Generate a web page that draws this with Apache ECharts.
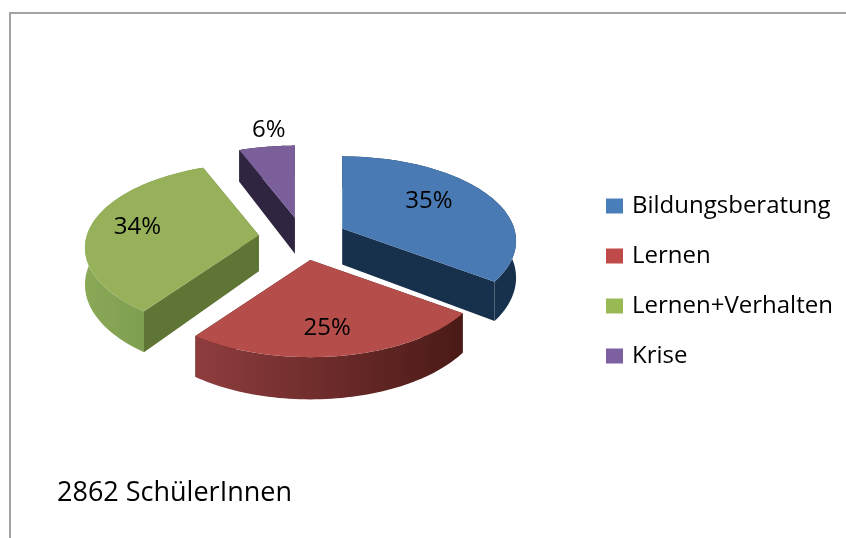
<!DOCTYPE html>
<html>
<head>
<meta charset="utf-8">
<style>html,body{margin:0;padding:0;background:#fff}#main{width:846px;height:538px}</style>
<script src="https://cdn.jsdelivr.net/npm/echarts@6/dist/echarts.min.js"></script>
</head>
<body>
<div id="main"></div>
<script>
var categories = ['Bildungsberatung', 'Lernen', 'Lernen+Verhalten', 'Krise']
var values = [35, 25, 34, 6]
var footnote = '2862 SchülerInnen'

// look of each slice, same order as categories
var topColors = ['#4a7ab3', '#b54e4a', '#96b15a', '#7a5f9a']
var legendColors = ['#4a7ebb', '#be4b48', '#98b954', '#7d60a0']
var wallColors = [['#17304b', '#17304b'], ['#8f3d3e', '#4a1a17'], ['#8aa957', '#76934a'], ['#2f2540', '#2f2540']]
var faceColors = ['#17304b', '#4a1a17', '#5f7535', '#2f2540']
// label place on the disc: angle in degrees, radius as part of the pie radius
var labelAngles = [55, 173, 280, 352]
var labelRadius = [0.65, 0.72, 0.73, 1.3]
// painted back to front
var drawOrder = [3, 0, 2, 1]

// tilted disc
var cx = 303, cy = 238
var rx = 172, ry = 82.7
var persp = 0.148
var explode = 0.26
var depth = 36

function project(angle, r) {
    var u = Math.sin(angle) * r
    var v = -Math.cos(angle) * r
    var s = 1 / (1 - persp * v)
    return { x: rx * u * s, y: ry * v * s, s: s }
}

var total = values.reduce(function (a, b) { return a + b }, 0)
var starts = []
var sum = 0
for (var i = 0; i < values.length; i++) {
    starts.push(sum / total * Math.PI * 2)
    sum += values[i]
}

function down(p) {
    return [p[0], p[1] + depth * p[2]]
}

function renderSlice(idx) {
    return function () {
        var a0 = starts[idx]
        var a1 = a0 + values[idx] / total * Math.PI * 2
        var off = project((a0 + a1) / 2, explode)
        var ax = cx + off.x, ay = cy + off.y
        var apex = [ax, ay, 1]
        var rim = []
        var steps = 60
        for (var k = 0; k <= steps; k++) {
            var p = project(a0 + (a1 - a0) * k / steps, 1)
            rim.push([ax + p.x, ay + p.y, p.s])
        }
        var first = rim[0], last = rim[steps]
        var wallPts = rim.map(function (p) { return [p[0], p[1]] })
        rim.slice().reverse().forEach(function (p) { wallPts.push(down(p)) })
        var topPts = [[ax, ay]].concat(rim.map(function (p) { return [p[0], p[1]] }))
        var lp = project(labelAngles[idx] * Math.PI / 180, labelRadius[idx])
        return {
            type: 'group',
            children: [
                { type: 'polygon', shape: { points: [[ax, ay], [first[0], first[1]], down(first), down(apex)] }, style: { fill: faceColors[idx] } },
                { type: 'polygon', shape: { points: [[ax, ay], [last[0], last[1]], down(last), down(apex)] }, style: { fill: faceColors[idx] } },
                {
                    type: 'polygon',
                    shape: { points: wallPts },
                    style: {
                        fill: new echarts.graphic.LinearGradient(0, 0, 1, 0, [
                            { offset: 0, color: wallColors[idx][0] },
                            { offset: 1, color: wallColors[idx][1] }
                        ])
                    }
                },
                { type: 'polygon', shape: { points: topPts }, style: { fill: topColors[idx] } },
                {
                    type: 'text',
                    z2: 10,
                    style: {
                        text: values[idx] + '%',
                        x: ax + lp.x,
                        y: ay + lp.y + 2,
                        align: 'center',
                        verticalAlign: 'middle',
                        fill: '#000',
                        font: '24px "Open Sans"'
                    }
                }
            ]
        }
    }
}

var series = drawOrder.map(function (idx) {
    return {
        type: 'custom',
        name: categories[idx],
        coordinateSystem: 'none',
        silent: true,
        animation: false,
        itemStyle: { color: legendColors[idx] },
        data: [values[idx]],
        renderItem: renderSlice(idx)
    }
})

var option = {
    animation: false,
    backgroundColor: '#fff',
    legend: {
        data: categories.map(function (name, i) {
            return { name: name, icon: 'rect', itemStyle: { color: legendColors[i] } }
        }),
        orient: 'vertical',
        left: 601,
        top: 185,
        itemWidth: 17,
        itemHeight: 15,
        itemGap: 18,
        selectedMode: false,
        textStyle: {
            color: '#000',
            fontFamily: 'Open Sans',
            fontSize: 24,
            lineHeight: 32,
            padding: [0, 0, 0, 4]
        }
    },
    title: {
        text: footnote,
        left: 57,
        top: 480,
        padding: 0,
        textStyle: { color: '#000', fontFamily: 'Open Sans', fontSize: 27, fontWeight: 'normal' }
    },
    graphic: [
        // footnote is cut off at its lower edge
        { type: 'rect', z: 100, shape: { x: 12, y: 502, width: 834, height: 36 }, style: { fill: '#fff' } },
        { type: 'rect', z: 101, shape: { x: 9, y: 12, width: 837, height: 2 }, style: { fill: '#a3a3a3' } },
        { type: 'rect', z: 101, shape: { x: 9, y: 12, width: 2, height: 526 }, style: { fill: '#a3a3a3' } }
    ],
    series: series
}

var myChart = echarts.init(document.getElementById('main'))
myChart.setOption(option)
</script>
</body>
</html>
